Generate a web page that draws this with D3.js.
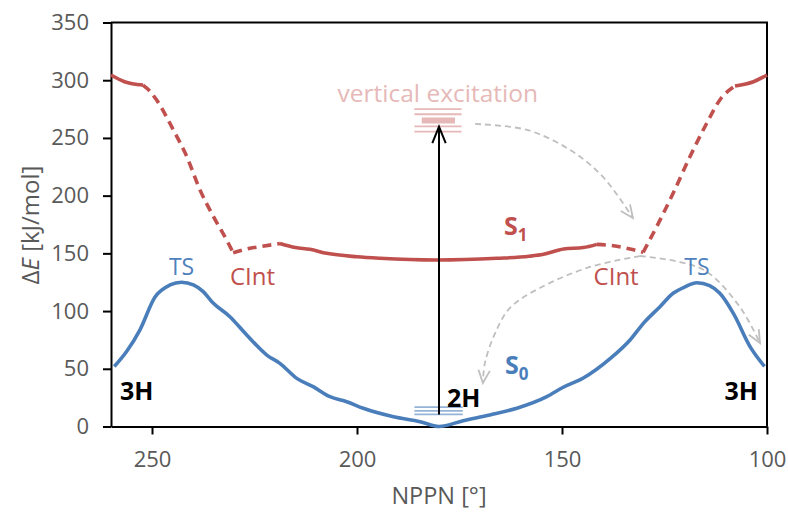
<!DOCTYPE html>
<html>
<head>
<meta charset="utf-8">
<script src="https://cdn.jsdelivr.net/npm/d3@7"></script>
<style>
  html, body { margin: 0; padding: 0; background: #fff; }
  svg { display: block; }
  text { font-family: "Segoe UI", "Open Sans", "Noto Sans", sans-serif; }
</style>
</head>
<body>
<svg id="chart" width="788" height="516"></svg>
<script>
// NPPN torsion angle (deg) and relative energy (kJ/mol) for the ground state S0
const s0Angle  = [259.2, 256.2, 252.9, 249.3, 245.6, 242.8, 239.9, 237.5, 235.4, 231.0, 226.9, 222.0, 218.8, 214.7, 210.7, 206.6, 202.5, 198.5, 191.1, 184.6, 180.0,
                  174.1, 167.6, 161.0, 153.7, 149.7, 144.8, 138.2, 133.4, 130.0, 126.1, 122.9, 120.0, 117.1, 114.0, 111.5, 108.2, 104.1, 100.6];
const s0Energy = [52, 65, 84, 112, 122.6, 125, 122.6, 116.8, 108.1, 95.1, 79.3, 61.9, 54.7, 41.7, 34.5, 25.8, 21.5, 15.8, 8.5, 4.2, 0,
                  5, 10, 15.8, 25.8, 34, 42, 59, 75, 90, 103.8, 115.4, 121, 124.6, 122, 115.4, 98, 69, 52];

// Excited state S1
const s1Angle  = [260.0, 256.7, 252.2, 250.5, 248.9, 244.8, 241.5, 238.3, 235.0, 231.8, 230.2, 226.1, 223.7, 218.8,
                  215.0, 211.5, 207.4, 200.0, 194.4, 180.6, 165.9, 158.0, 154.5, 149.6, 144.8, 141.5,
                  137.5, 133.4, 130.2, 126.5, 122.9, 118.8, 114.7, 111.5, 107.8, 103.3, 100.0];
const s1Energy = [304.5, 298.7, 295.8, 290.5, 283, 257, 233.7, 205, 181.8, 161.6, 150.5, 154.4, 155.8, 158.5,
                  155, 153.5, 150, 147, 145.7, 144.2, 145.7, 147.5, 149.2, 153.8, 155, 157.8,
                  156.6, 153.8, 150.9, 176, 202, 233.7, 262.7, 282.9, 295, 298.7, 304.5];
// S1 pieces: [from angle, to angle, dashed]
const s1Pieces = [[260.0, 252.2, false], [252.2, 230.2, true], [230.2, 218.8, true], [218.8, 141.5, false],
                  [141.5, 130.2, true], [130.2, 107.8, true], [107.8, 100.0, false]];

// Vibrational levels
const excitedLevels = [255.5, 260, 270.5, 275];
const excitedBand = 265;
const groundLevels = [10.5, 13.6, 16.7];

// Relaxation pathways (angle, energy)
const pathExcToCInt = [[171.2, 262.1], [158.5, 256.9], [148.0, 239.5], [140.0, 216.2], [132.7, 180.6]];
const pathCIntTo2H  = [[131.0, 147.7], [143.2, 138.2], [155.4, 120.0], [162.7, 102.7], [166.3, 81.0], [168.8, 55.0], [169.3, 37.7]];
const pathCIntTo3H  = [[131.0, 147.7], [121.2, 142.5], [114.6, 133.9], [106.6, 103.5], [101.7, 72.3]];

const xTicks = [250, 200, 150, 100];
const yTicks = [0, 50, 100, 150, 200, 250, 300, 350];

const RED = "#C0504D", BLUE = "#4A7EBB", GREY_TXT = "#595959";
const FONT = '"Segoe UI", "Open Sans", "Noto Sans", sans-serif';

const svg = d3.select("#chart");
const M = {left: 111, right: 767, top: 22.5, bottom: 426.5};

const x = d3.scaleLinear().domain([260, 100]).range([M.left, M.right]);
const y = d3.scaleLinear().domain([0, 350]).range([M.bottom, M.top]);

// Axes
const xAxis = svg.append("g").attr("transform", `translate(0,${M.bottom})`)
  .call(d3.axisBottom(x).tickValues(xTicks).tickSize(8).tickSizeOuter(0).tickPadding(17));
const yAxis = svg.append("g").attr("transform", `translate(${M.left},0)`)
  .call(d3.axisLeft(y).tickValues(yTicks).tickSize(8).tickSizeOuter(0).tickPadding(14));
[xAxis, yAxis].forEach(g => {
  g.select(".domain").attr("stroke", "#000").attr("stroke-width", 2);
  g.selectAll(".tick line").attr("stroke", "#000").attr("stroke-width", 2);
  g.selectAll(".tick text").attr("fill", GREY_TXT).style("font-size", "22px").style("font-family", FONT);
});

// Frame top and right
svg.append("path")
  .attr("d", `M${M.left},${M.top}H${M.right}V${M.bottom}`)
  .attr("fill", "none").attr("stroke", "#000").attr("stroke-width", 2);

// Axis titles
svg.append("text").attr("x", (M.left + M.right) / 2).attr("y", 504)
  .attr("text-anchor", "middle").attr("fill", GREY_TXT).style("font-size", "23.5px").text("NPPN [°]");
const yt = svg.append("text").attr("transform", "translate(39,225) rotate(-90)")
  .attr("text-anchor", "middle").attr("fill", GREY_TXT).style("font-size", "24px");
yt.append("tspan").text("Δ");
yt.append("tspan").style("font-style", "italic").text("E");
yt.append("tspan").text(" [kJ/mol]");

// Line generator
const line = d3.line().x(d => x(d[0])).y(d => y(d[1])).curve(d3.curveMonotoneX);

// Vibrational levels
const lv = svg.append("g");
groundLevels.forEach(e => lv.append("line")
  .attr("x1", x(186)).attr("x2", x(174.2)).attr("y1", y(e)).attr("y2", y(e))
  .attr("stroke", "#95B3D7").attr("stroke-width", 1.8));
excitedLevels.forEach(e => lv.append("line")
  .attr("x1", x(186)).attr("x2", x(174.5)).attr("y1", y(e)).attr("y2", y(e))
  .attr("stroke", "#E6B9B8").attr("stroke-width", 1.8));
lv.append("line").attr("x1", x(184.2)).attr("x2", x(176.1)).attr("y1", y(excitedBand)).attr("y2", y(excitedBand))
  .attr("stroke", "#E6B9B8").attr("stroke-width", 6);

// S0 curve
const s0 = s0Angle.map((a, i) => [a, s0Energy[i]]);
svg.append("path").datum(s0).attr("d", line)
  .attr("fill", "none").attr("stroke", BLUE).attr("stroke-width", 3.6).attr("stroke-linejoin", "round");

// S1 curve, split into solid and dashed pieces
const s1 = s1Angle.map((a, i) => [a, s1Energy[i]]);
s1Pieces.forEach(([a0, a1, dashed]) => {
  const pts = s1.filter(d => d[0] <= a0 + 1e-9 && d[0] >= a1 - 1e-9);
  svg.append("path").datum(pts).attr("d", line)
    .attr("fill", "none").attr("stroke", RED).attr("stroke-width", 3.6)
    .attr("stroke-dasharray", dashed ? "9,6" : null)
    .attr("stroke-linejoin", "round");
});

// Vertical excitation arrow
const ax = x(180), ay0 = y(groundLevels[0]), ay1 = y(259.7);
svg.append("line").attr("x1", ax).attr("x2", ax).attr("y1", ay0).attr("y2", ay1)
  .attr("stroke", "#000").attr("stroke-width", 2);
svg.append("path").attr("d", `M${ax - 6.7},${ay1 + 16.5}L${ax},${ay1}L${ax + 6.7},${ay1 + 16.5}`)
  .attr("fill", "none").attr("stroke", "#000").attr("stroke-width", 2);

// Dashed relaxation paths with open arrowheads
const pathLine = d3.line().x(d => x(d[0])).y(d => y(d[1])).curve(d3.curveCatmullRom.alpha(0.5));
[pathExcToCInt, pathCIntTo2H, pathCIntTo3H].forEach(p => {
  svg.append("path").datum(p).attr("d", pathLine)
    .attr("fill", "none").attr("stroke", "#BFBFBF").attr("stroke-width", 1.8).attr("stroke-dasharray", "6,4");
  const [qa, qb] = [p[p.length - 2], p[p.length - 1]];
  const tx = x(qb[0]), ty = y(qb[1]);
  const ang = Math.atan2(ty - y(qa[1]), tx - x(qa[0]));
  const L = 14, sp = 0.42;
  const a1 = [tx - L * Math.cos(ang - sp), ty - L * Math.sin(ang - sp)];
  const a2 = [tx - L * Math.cos(ang + sp), ty - L * Math.sin(ang + sp)];
  svg.append("path").attr("d", `M${a1[0]},${a1[1]}L${tx},${ty}L${a2[0]},${a2[1]}`)
    .attr("fill", "none").attr("stroke", "#BFBFBF").attr("stroke-width", 1.8);
});

// Text labels
const lab = (px, py, txt, col, size, weight, anchor) => svg.append("text")
  .attr("x", px).attr("y", py).attr("fill", col).attr("text-anchor", anchor || "start")
  .style("font-size", size + "px").style("font-weight", weight || "normal").text(txt);

lab(x(242.8), 275, "TS", "#4F81BD", 23, "normal", "middle");
lab(x(117.1), 275, "TS", "#4F81BD", 23, "normal", "middle");
lab(x(225.5), 285, "CInt", RED, 24, "normal", "middle");
lab(x(136.8), 285, "CInt", RED, 24, "normal", "middle");
lab(x(180.3), 102, "vertical excitation", "#E6B9B8", 24.5, "normal", "middle");
lab(120, 400, "3H", "#000", 25, "bold");
lab(758, 400, "3H", "#000", 25, "bold", "end");
lab(447, 407, "2H", "#000", 25, "bold");

const sLab = (px, py, sub, col) => {
  const t = svg.append("text").attr("x", px).attr("y", py).attr("fill", col)
    .style("font-size", "25px").style("font-weight", "bold");
  t.append("tspan").text("S");
  t.append("tspan").attr("dy", 6).style("font-size", "17px").text(sub);
};
sLab(504, 235, "1", RED);
sLab(505, 374, "0", BLUE);
</script>
</body>
</html>
